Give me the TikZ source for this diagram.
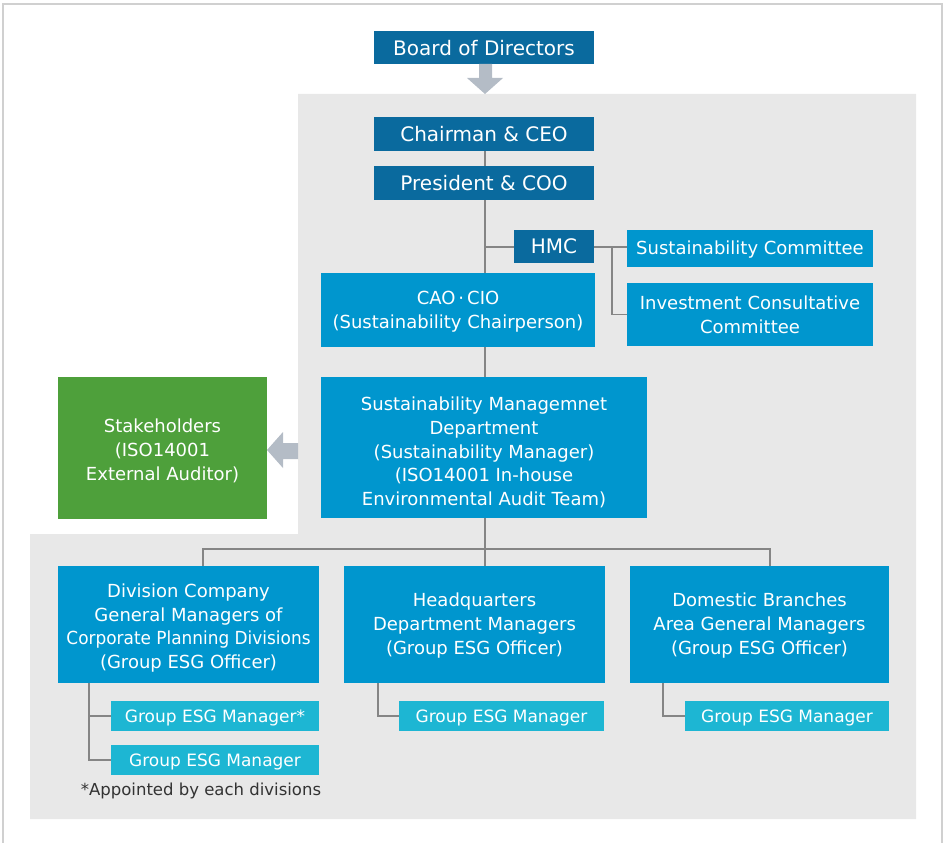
\documentclass[tikz,border=0pt]{standalone}
\usepackage{fontspec}
\setmainfont{DejaVu Sans}
\definecolor{cdark}{HTML}{0A6A9E}
\definecolor{cmid}{HTML}{0096CE}
\definecolor{ccyan}{HTML}{1DB6D3}
\definecolor{cgreen}{HTML}{4EA03B}
\definecolor{cbg}{HTML}{E8E8E8}
\definecolor{carrow}{HTML}{B4BCC6}
\definecolor{cline}{HTML}{858585}
\definecolor{cborder}{HTML}{D0D0D0}
\definecolor{cfoot}{HTML}{333333}
\newcommand{\mytstrut}[1]{\rule{0pt}{#1}}
\begin{document}
\begin{tikzpicture}[x=1pt,y=-1pt,
  box/.style={draw=none, text=white, align=center, inner sep=0pt, font=\fontsize{18}{23.8}\selectfont},
  dark/.style={box, fill=cdark, font=\fontsize{20}{24}\selectfont},
  mid/.style={box, fill=cmid},
  grn/.style={box, fill=cgreen},
  subbox/.style={box, fill=ccyan, font=\fontsize{17}{22}\selectfont},
  conn/.style={draw=cline, line width=1.4pt},
  bigarrow/.style={fill=carrow, draw=none}]
\useasboundingbox (0,0) rectangle (943,843);
% frame
\draw[cborder, line width=1.5pt] (3,843) -- (3,4) -- (942,4) -- (942,843);
% gray background
\fill[cbg] (298,94) -- (916,94) -- (916,819) -- (30,819) -- (30,534) -- (298,534) -- cycle;

% nodes
\node[dark, minimum width=220, minimum height=33] (board) at (484,47.5) {\mytstrut{16pt}Board of Directors};
\node[dark, minimum width=220, minimum height=34] (chair) at (484,134) {Chairman \& CEO};
\node[dark, minimum width=220, minimum height=34] (pres) at (484,183) {President \& COO};
\node[dark, minimum width=80, minimum height=33] (hmc) at (554,246.5) {HMC};
\node[mid, minimum width=246, minimum height=37] (susc) at (750,248.5) {\mytstrut{15.5pt}Sustainability Committee};
\node[mid, minimum width=246, minimum height=63] (icc) at (750,314.5) {Investment Consultative\\Committee};
\node[mid, minimum width=274, minimum height=74] (cao) at (458,310) {\mytstrut{16.7pt}CAO\kern3pt·\kern3pt CIO\\(Sustainability Chairperson)};
\node[mid, minimum width=326, minimum height=141] (smd) at (484,447.5) {\mytstrut{23.7pt}Sustainability Managemnet\\Department\\(Sustainability Manager)\\(ISO14001 In-house\\Environmental Audit Team)};
\node[grn, minimum width=209, minimum height=142] (stake) at (162.5,448) {\mytstrut{19.7pt}Stakeholders\\(ISO14001\\External Auditor)};
\node[mid, minimum width=261, minimum height=117] (div) at (188.5,624.5) {\mytstrut{20.7pt}Division Company\\General Managers of\\\scalebox{0.94}[1]{Corporate Planning Divisions}\\(Group ESG Officer)};
\node[mid, minimum width=261, minimum height=117] (hq) at (474.5,624.5) {\mytstrut{15.7pt}Headquarters\\Department Managers\\(Group ESG Officer)};
\node[mid, minimum width=259, minimum height=117] (dom) at (759.5,624.5) {\mytstrut{15.7pt}Domestic Branches\\Area General Managers\\(Group ESG Officer)};
\node[subbox, minimum width=208, minimum height=30] (divA) at (215,716) {\mytstrut{17pt}Group ESG Manager*};
\node[subbox, minimum width=208, minimum height=30] (divB) at (215,760) {\mytstrut{17pt}Group ESG Manager};
\node[subbox, minimum width=205, minimum height=30] (hqA) at (501.5,716) {\mytstrut{17pt}Group ESG Manager};
\node[subbox, minimum width=204, minimum height=30] (domA) at (787,716) {\mytstrut{17pt}Group ESG Manager};
\node[text=cfoot, inner sep=0pt, font=\fontsize{16.5}{20}\selectfont] (foot) at (201,791) {*Appointed by each divisions};

% big gray arrows
\fill[bigarrow] (479,64) -- (492,64) -- (492,78) -- (503,78) -- (485,94) -- (467,78) -- (479,78) -- cycle;
\fill[bigarrow] (298,443) -- (283,443) -- (283,432) -- (267,450) -- (283,468) -- (283,459) -- (298,459) -- cycle;

% connectors
\coordinate (mainx) at (485,0);
\coordinate (hmcj) at (485,247);
\coordinate (brk) at (612,247);
\coordinate (busL) at (203,549);
\coordinate (busM) at (485,549);
\coordinate (busR) at (770,549);
\draw[conn] (chair.south -| mainx) -- (pres.north -| mainx);
\draw[conn] (pres.south -| mainx) -- (cao.north -| mainx);
\draw[conn] (hmcj) -- (hmc.west |- hmcj);
\draw[conn] (hmc.east |- brk) -- (susc.west |- brk);
\draw[conn] (brk) |- (icc.west);
\draw[conn] (cao.south -| mainx) -- (smd.north -| mainx);
\draw[conn] (smd.south -| mainx) -- (hq.north -| mainx);
\draw[conn] (busL |- div.north) -- (busL) -- (busR) -- (busR |- dom.north);
\coordinate (dA) at (89,0);
\coordinate (hA) at (378,0);
\coordinate (oA) at (663,0);
\draw[conn] (div.south -| dA) |- (divB.west);
\draw[conn] (divA.west -| dA) -- (divA.west);
\draw[conn] (hq.south -| hA) |- (hqA.west);
\draw[conn] (dom.south -| oA) |- (domA.west);
\end{tikzpicture}
\end{document}
